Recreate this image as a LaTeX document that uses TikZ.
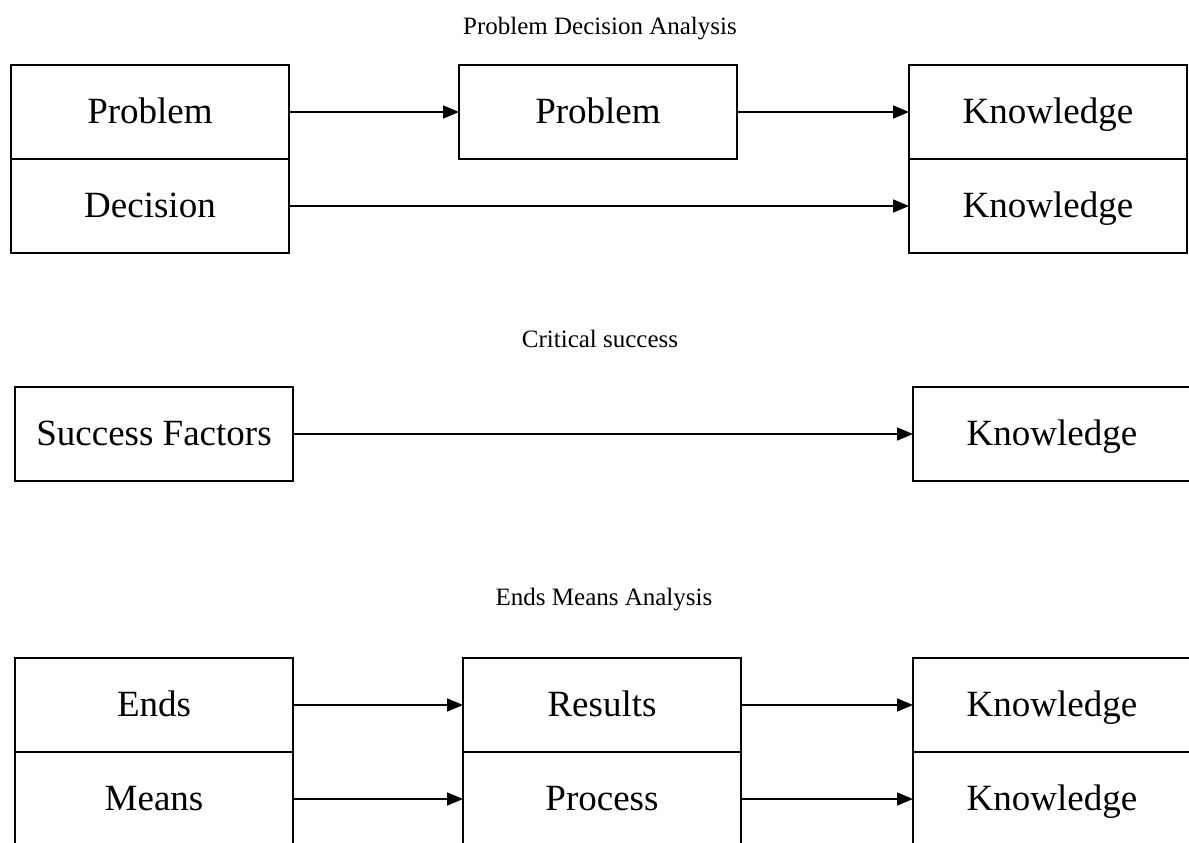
\documentclass[tikz,border=0pt]{standalone}
\usepackage{fontspec}
\setmainfont{Liberation Serif}
\usetikzlibrary{arrows.meta,positioning}
\tikzset{
  cell/.style={draw,line width=1.7pt,outer sep=0pt,minimum width=278pt,minimum height=94pt,
    text height=30pt,text depth=7pt,font=\fontsize{37}{44}\selectfont},
  ttl/.style={anchor=base,font=\fontsize{25}{30}\selectfont},
  arr/.style={-{Triangle[length=16pt,width=13pt]},line width=1.7pt}
}

\begin{document}
\begin{tikzpicture}[x=1pt,y=-1pt]
\clip (0,0) rectangle (1189,843);
\fill[white] (0,0) rectangle (1189,843);
% problem decision analysis
\node[ttl] (t1) at (600,35) {Problem Decision Analysis};
\node[cell] (prob) at (150,112) {Problem};
\node[cell,below=0pt of prob] (dec) {Decision};
\node[cell] (prob2) at (598,112) {Problem};
\node[cell] (kn1) at (1048,112) {Knowledge};
\node[cell,below=0pt of kn1] (kn2) {Knowledge};
\draw[arr] (prob) -- (prob2); \draw[arr] (prob2) -- (kn1);
\draw[arr] (dec) -- (kn2);
% critical success
\node[ttl] (t2) at (600,347) {Critical success};
\node[cell] (csf) at (154,434) {Success Factors};
\node[cell] (kn3) at (1052,434) {Knowledge};
\draw[arr] (csf) -- (kn3);
% ends means analysis
\node[ttl] (t3) at (604,605) {Ends Means Analysis};
\node[cell] (ends) at (154,705) {Ends};
\node[cell,below=0pt of ends] (means) {Means};
\node[cell] (res) at (602,705) {Results};
\node[cell,below=0pt of res] (proc) {Process};
\node[cell] (kn4) at (1052,705) {Knowledge};
\node[cell,below=0pt of kn4] (kn5) {Knowledge};
\draw[arr] (ends) -- (res); \draw[arr] (res) -- (kn4);
\draw[arr] (means) -- (proc); \draw[arr] (proc) -- (kn5);
\end{tikzpicture}
\end{document}
